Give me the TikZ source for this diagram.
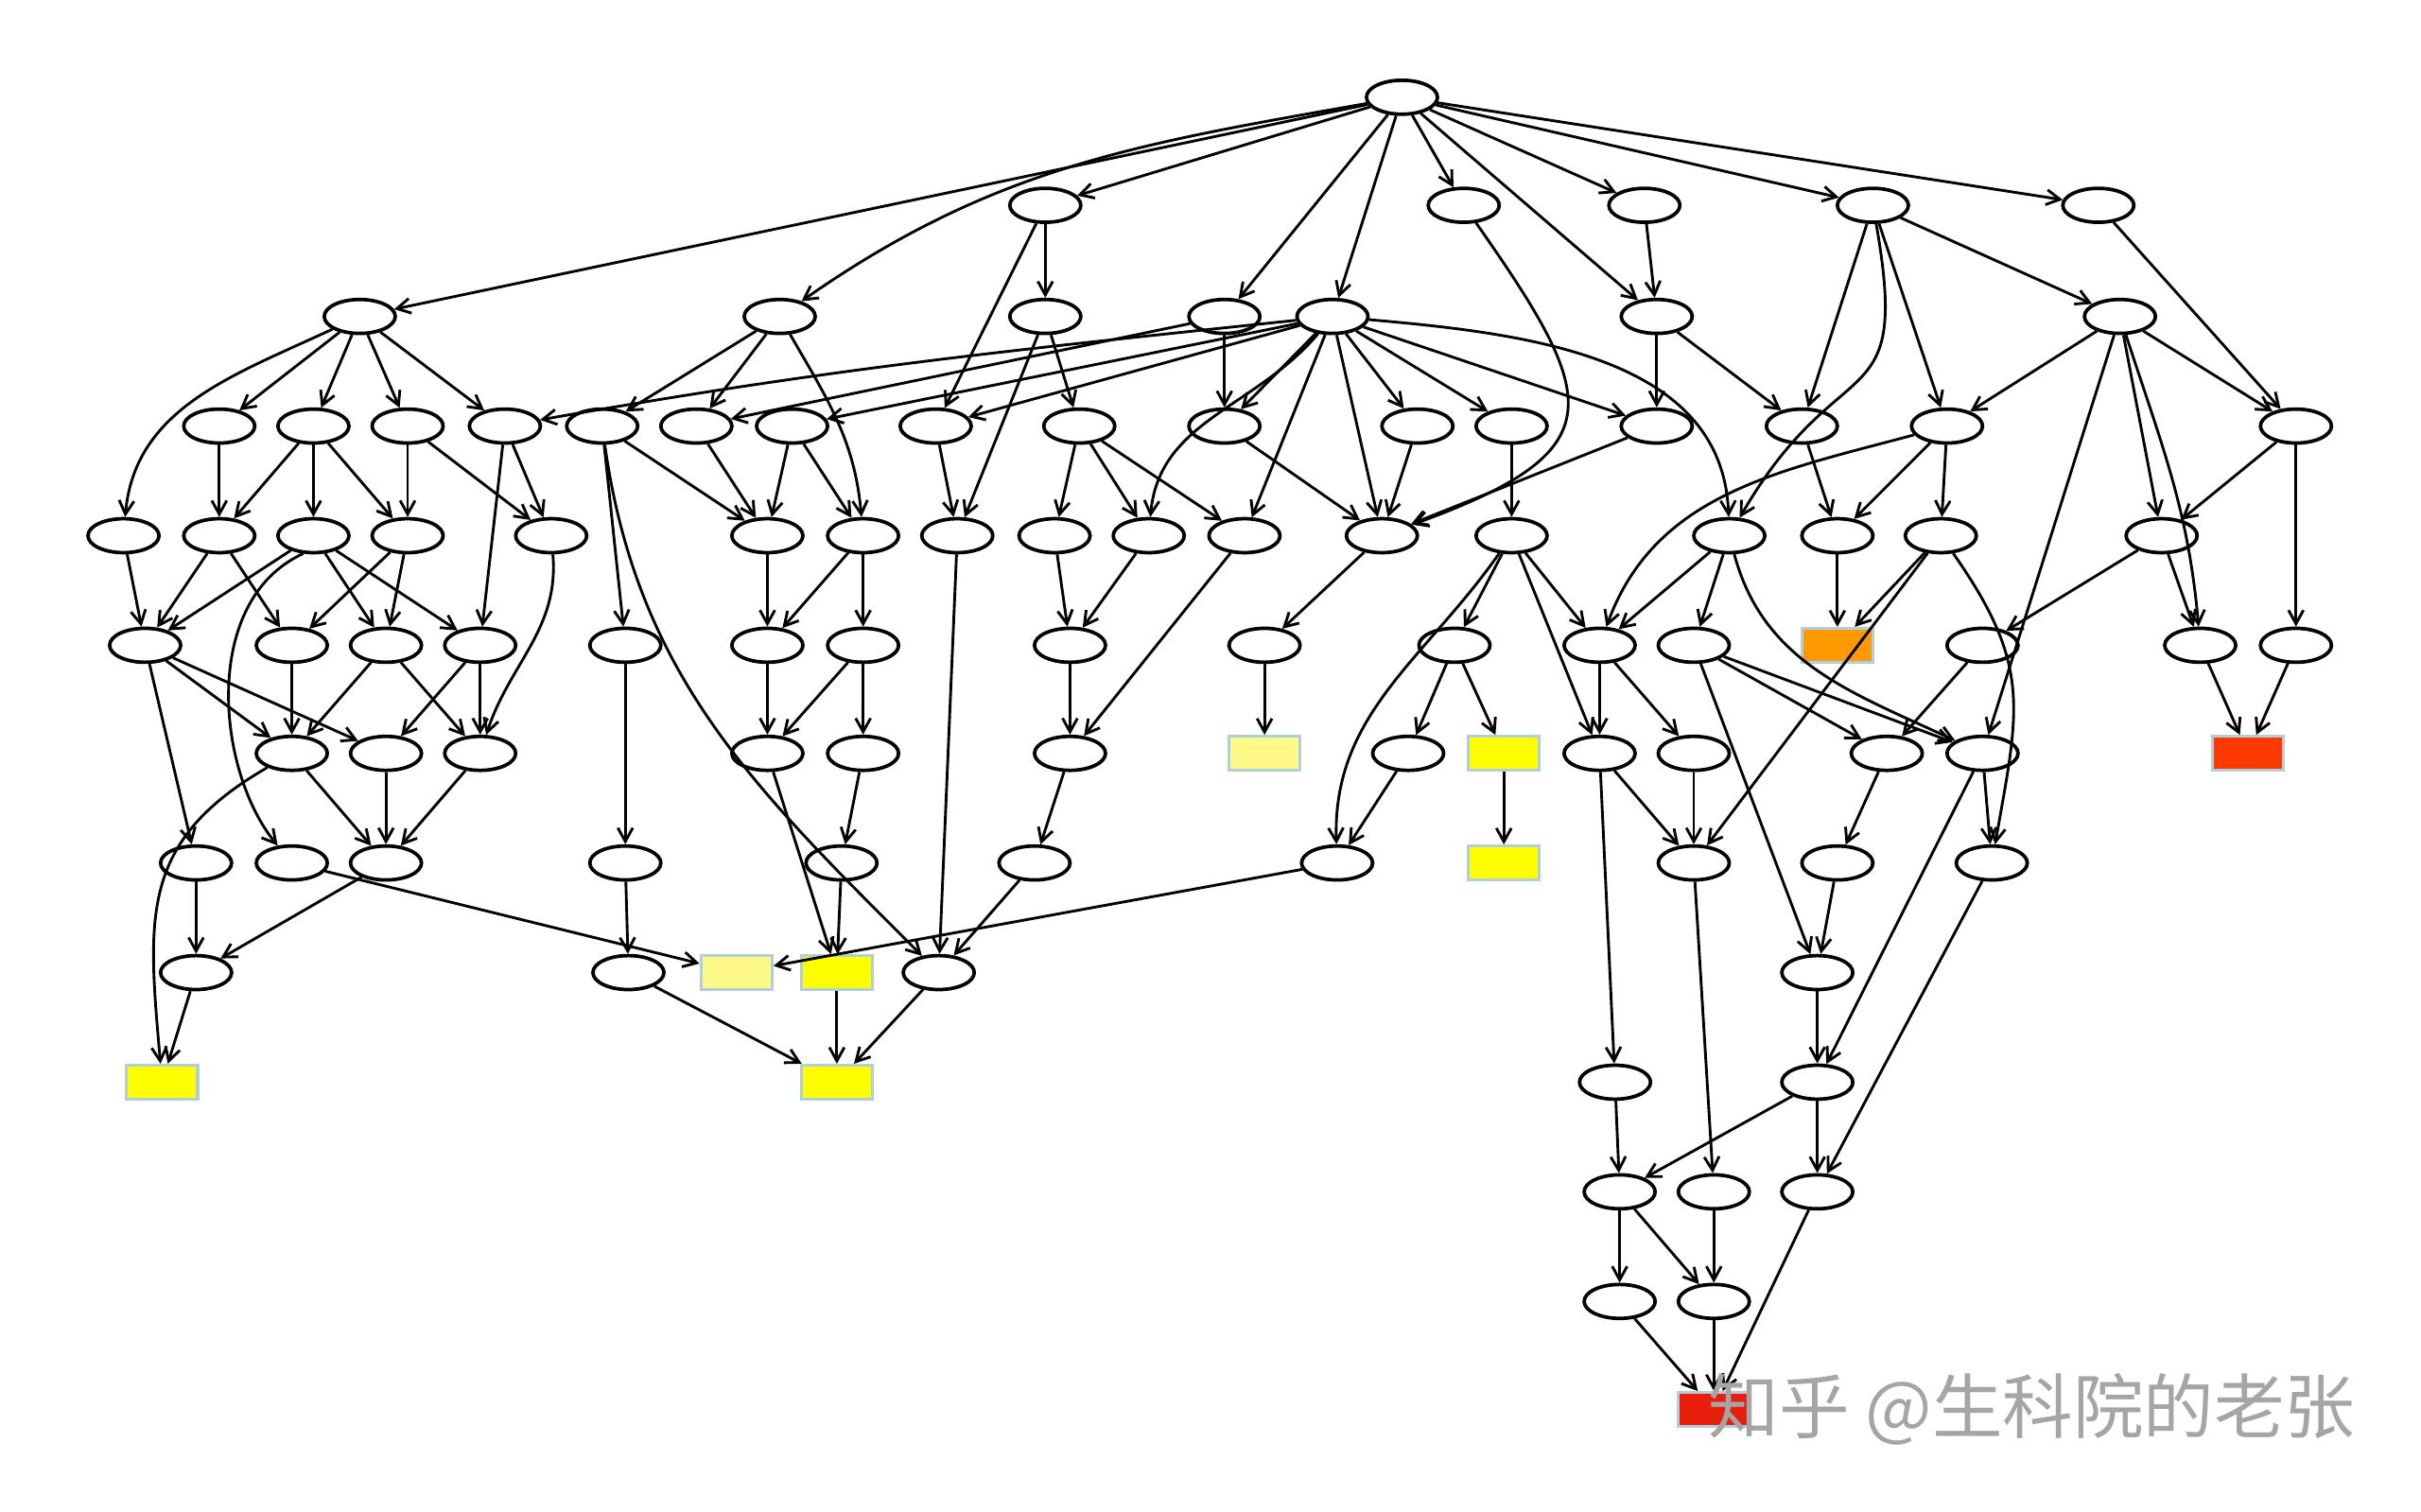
\documentclass[tikz,border=0pt]{standalone}
\usepackage{fontspec}
\newfontfamily\cjkfont{Noto Sans CJK SC}
\usetikzlibrary{shapes.geometric, arrows.meta}
\definecolor{GOYellow}{RGB}{255, 255, 0}
\definecolor{GOPale}{RGB}{255, 250, 135}
\definecolor{GOOrange}{RGB}{255, 153, 0}
\definecolor{GORed}{RGB}{255, 58, 0}
\definecolor{GODeep}{RGB}{232, 30, 10}
\definecolor{GOEdge}{RGB}{176, 206, 220}
\definecolor{MarkGray}{RGB}{165, 165, 165}

\begin{document}
\begin{tikzpicture}[
    x=0.02cm, y=0.02cm,
    term/.style={ellipse, draw=black, fill=white, line width=1.3pt, minimum width=0.92cm, minimum height=0.44cm, inner sep=0pt},
    hit/.style={rectangle, draw=GOEdge, line width=1.1pt, minimum width=0.92cm, minimum height=0.44cm, inner sep=0pt},
    arrow/.style={-{Straight Barb[length=5pt,width=5.5pt,line width=1pt]}, draw=black, line width=1pt}
  ]
    \useasboundingbox (0,0) rectangle (1568,979);

    % Level 0-2
    \node[term] (a) at (908,916) {};
    \node[term] (b1) at (677,846) {};
    \node[term] (b2) at (948,846) {};
    \node[term] (b3) at (1065,846) {};
    \node[term] (b4) at (1213,846) {};
    \node[term] (b5) at (1359,846) {};
    \node[term] (c1) at (233,774) {};
    \node[term] (c2) at (505,774) {};
    \node[term] (c3) at (677,774) {};
    \node[term] (c4) at (793,774) {};
    \node[term] (c5) at (863,774) {};
    \node[term] (c6) at (1073,774) {};
    \node[term] (c7) at (1373,774) {};

    % Level 3
    \node[term] (d1) at (142,703) {};
    \node[term] (d2) at (203,703) {};
    \node[term] (d3) at (264,703) {};
    \node[term] (d4) at (327,703) {};
    \node[term] (d5) at (390,703) {};
    \node[term] (d6) at (451,703) {};
    \node[term] (d7) at (513,703) {};
    \node[term] (d8) at (606,703) {};
    \node[term] (d9) at (699,703) {};
    \node[term] (d10) at (793,703) {};
    \node[term] (d11) at (918,703) {};
    \node[term] (d12) at (979,703) {};
    \node[term] (d13) at (1073,703) {};
    \node[term] (d14) at (1167,703) {};
    \node[term] (d15) at (1261,703) {};
    \node[term] (d16) at (1487,703) {};

    % Level 4
    \node[term] (e1) at (80,632) {};
    \node[term] (e2) at (142,632) {};
    \node[term] (e3) at (203,632) {};
    \node[term] (e4) at (264,632) {};
    \node[term] (e5) at (357,632) {};
    \node[term] (e6) at (497,632) {};
    \node[term] (e7) at (559,632) {};
    \node[term] (e8) at (620,632) {};
    \node[term] (e9) at (683,632) {};
    \node[term] (e10) at (744,632) {};
    \node[term] (e11) at (806,632) {};
    \node[term] (e12) at (895,632) {};
    \node[term] (e13) at (979,632) {};
    \node[term] (e14) at (1120,632) {};
    \node[term] (e15) at (1190,632) {};
    \node[term] (e16) at (1257,632) {};
    \node[term] (e17) at (1400,632) {};

    % Level 5
    \node[term] (f1) at (94,561) {};
    \node[term] (f2) at (189,561) {};
    \node[term] (f3) at (250,561) {};
    \node[term] (f4) at (311,561) {};
    \node[term] (f5) at (405,561) {};
    \node[term] (f6) at (497,561) {};
    \node[term] (f7) at (559,561) {};
    \node[term] (f8) at (693,561) {};
    \node[term] (f9) at (819,561) {};
    \node[term] (f10) at (942,561) {};
    \node[term] (f11) at (1036,561) {};
    \node[term] (f12) at (1097,561) {};
    \node[hit, fill=GOOrange] (f13) at (1190,561) {};
    \node[term] (f14) at (1284,561) {};
    \node[term] (f15) at (1425,561) {};
    \node[term] (f16) at (1487,561) {};

    % Level 6
    \node[term] (g1) at (189,491) {};
    \node[term] (g2) at (250,491) {};
    \node[term] (g3) at (311,491) {};
    \node[term] (g4) at (497,491) {};
    \node[term] (g5) at (559,491) {};
    \node[term] (g6) at (693,491) {};
    \node[hit, fill=GOPale] (g7) at (819,491) {};
    \node[term] (g8) at (912,491) {};
    \node[hit, fill=GOYellow] (g9) at (974,491) {};
    \node[term] (g10) at (1036,491) {};
    \node[term] (g11) at (1097,491) {};
    \node[term] (g12) at (1222,491) {};
    \node[term] (g13) at (1284,491) {};
    \node[hit, fill=GORed] (g14) at (1456,491) {};

    % Level 7-8
    \node[term] (h1) at (127,420) {};
    \node[term] (h2) at (189,420) {};
    \node[term] (h3) at (250,420) {};
    \node[term] (h4) at (405,420) {};
    \node[term] (h5) at (545,420) {};
    \node[term] (h6) at (670,420) {};
    \node[term] (h7) at (866,420) {};
    \node[hit, fill=GOYellow] (h8) at (974,420) {};
    \node[term] (h9) at (1097,420) {};
    \node[term] (h10) at (1190,420) {};
    \node[term] (h11) at (1290,420) {};
    \node[term] (i1) at (127,349) {};
    \node[term] (i2) at (407,349) {};
    \node[hit, fill=GOPale] (i3) at (477,349) {};
    \node[hit, fill=GOYellow] (i4) at (542,349) {};
    \node[term] (i5) at (608,349) {};
    \node[term] (i6) at (1177,349) {};

    % Level 9-12
    \node[hit, fill=GOYellow] (j1) at (105,278) {};
    \node[hit, fill=GOYellow] (j2) at (542,278) {};
    \node[term] (j3) at (1046,278) {};
    \node[term] (j4) at (1177,278) {};
    \node[term] (k1) at (1049,207) {};
    \node[term] (k2) at (1110,207) {};
    \node[term] (k3) at (1177,207) {};
    \node[term] (l1) at (1049,136) {};
    \node[term] (l2) at (1110,136) {};
    \node[hit, fill=GODeep] (m1) at (1110,66) {};

    % Connections from the root
    \draw[arrow] (a) -- (c1);
    \draw[arrow] (a) to[out=190, in=35] (c2);
    \draw[arrow] (a) -- (b1);
    \draw[arrow] (a) -- (c4);
    \draw[arrow] (a) -- (c5);
    \draw[arrow] (a) -- (b2);
    \draw[arrow] (a) -- (c6);
    \draw[arrow] (a) -- (b3);
    \draw[arrow] (a) -- (b4);
    \draw[arrow] (a) -- (b5);

    % Level 1 -> below
    \draw[arrow] (b1) -- (c3);
    \draw[arrow] (b1) -- (d8);
    \draw[arrow] (b2) to[out=-55, in=20, looseness=1.8] (e12);
    \draw[arrow] (b3) -- (c6);
    \draw[arrow] (b4) -- (d14);
    \draw[arrow] (b4) -- (d15);
    \draw[arrow] (b4) -- (c7);
    \draw[arrow] (b4) to[out=-80, in=60, looseness=1.6] (e14);
    \draw[arrow] (b5) -- (d16);

    % Level 2 -> below
    \draw[arrow] (c1) to[out=205, in=85] (e1);
    \draw[arrow] (c1) -- (d1);
    \draw[arrow] (c1) -- (d2);
    \draw[arrow] (c1) -- (d3);
    \draw[arrow] (c1) -- (d4);
    \draw[arrow] (c2) -- (d5);
    \draw[arrow] (c2) -- (d6);
    \draw[arrow] (c2) to[out=-60, in=95] (e7);
    \draw[arrow] (c3) -- (d9);
    \draw[arrow] (c3) -- (e8);
    \draw[arrow] (c4) -- (d6);
    \draw[arrow] (c4) -- (d10);
    \draw[arrow] (c5) to[out=186, in=10] (d4);
    \draw[arrow] (c5) -- (d7);
    \draw[arrow] (c5) -- (d8);
    \draw[arrow] (c5) -- (d10);
    \draw[arrow] (c5) -- (d11);
    \draw[arrow] (c5) -- (d12);
    \draw[arrow] (c5) -- (d13);
    \draw[arrow] (c5) to[out=230, in=85] (e10);
    \draw[arrow] (c5) -- (e11);
    \draw[arrow] (c5) -- (e12);
    \draw[arrow] (c5) to[out=-5, in=92] (e14);
    \draw[arrow] (c6) -- (d13);
    \draw[arrow] (c6) -- (d14);
    \draw[arrow] (c7) -- (d15);
    \draw[arrow] (c7) -- (d16);
    \draw[arrow] (c7) -- (e17);
    \draw[arrow] (c7) to[out=-72, in=95] (f15);
    \draw[arrow] (c7) -- (g13);

    % Level 3 -> below
    \draw[arrow] (d1) -- (e2);
    \draw[arrow] (d2) -- (e2);
    \draw[arrow] (d2) -- (e3);
    \draw[arrow] (d2) -- (e4);
    \draw[arrow] (d3) -- (e4);
    \draw[arrow] (d3) -- (e5);
    \draw[arrow] (d4) -- (e5);
    \draw[arrow] (d4) -- (f4);
    \draw[arrow] (d5) -- (f5);
    \draw[arrow] (d5) -- (e6);
    \draw[arrow] (d5) to[out=-82, in=135] (i5);
    \draw[arrow] (d6) -- (e6);
    \draw[arrow] (d7) -- (e6);
    \draw[arrow] (d7) -- (e7);
    \draw[arrow] (d8) -- (e8);
    \draw[arrow] (d9) -- (e9);
    \draw[arrow] (d9) -- (e10);
    \draw[arrow] (d9) -- (e11);
    \draw[arrow] (d10) -- (e12);
    \draw[arrow] (d11) -- (e12);
    \draw[arrow] (d12) -- (e13);
    \draw[arrow] (d13) -- (e12);
    \draw[arrow] (d14) -- (e15);
    \draw[arrow] (d15) -- (e15);
    \draw[arrow] (d15) -- (e16);
    \draw[arrow] (d15) to[out=195, in=70] (f11);
    \draw[arrow] (d16) -- (e17);
    \draw[arrow] (d16) -- (f16);

    % Level 4 -> below
    \draw[arrow] (e1) -- (f1);
    \draw[arrow] (e2) -- (f1);
    \draw[arrow] (e2) -- (f2);
    \draw[arrow] (e3) -- (f1);
    \draw[arrow] (e3.240) .. controls (130,590) and (140,480) .. (h2);
    \draw[arrow] (e3) -- (f3);
    \draw[arrow] (e3) -- (f4);
    \draw[arrow] (e4) -- (f2);
    \draw[arrow] (e4) -- (f3);
    \draw[arrow] (e5) to[out=-85, in=72] (g3);
    \draw[arrow] (e6) -- (f6);
    \draw[arrow] (e7) -- (f6);
    \draw[arrow] (e7) -- (f7);
    \draw[arrow] (e8) -- (i5);
    \draw[arrow] (e9) -- (f8);
    \draw[arrow] (e10) -- (f8);
    \draw[arrow] (e11) -- (g6);
    \draw[arrow] (e12) -- (f9);
    \draw[arrow] (e13) -- (f10);
    \draw[arrow] (e13) -- (f11);
    \draw[arrow] (e13) -- (g10);
    \draw[arrow] (e13) to[out=235, in=92] (h7);
    \draw[arrow] (e14) -- (f11);
    \draw[arrow] (e14) -- (f12);
    \draw[arrow] (e14) to[out=-75, in=155] (g13);
    \draw[arrow] (e15) -- (f13);
    \draw[arrow] (e16) -- (f13);
    \draw[arrow] (e16) -- (h9);
    \draw[arrow] (e16) to[out=-55, in=80, looseness=1.2] (h11);
    \draw[arrow] (e17) -- (f15);
    \draw[arrow] (e17) -- (f14);

    % Level 5 -> below
    \draw[arrow] (f1) -- (g1);
    \draw[arrow] (f1) -- (g2);
    \draw[arrow] (f1) -- (h1);
    \draw[arrow] (f2) -- (g1);
    \draw[arrow] (f3) -- (g1);
    \draw[arrow] (f3) -- (g3);
    \draw[arrow] (f4) -- (g2);
    \draw[arrow] (f4) -- (g3);
    \draw[arrow] (f5) -- (h4);
    \draw[arrow] (f6) -- (g4);
    \draw[arrow] (f7) -- (g4);
    \draw[arrow] (f7) -- (g5);
    \draw[arrow] (f8) -- (g6);
    \draw[arrow] (f9) -- (g7);
    \draw[arrow] (f10) -- (g8);
    \draw[arrow] (f10) -- (g9);
    \draw[arrow] (f11) -- (g10);
    \draw[arrow] (f11) -- (g11);
    \draw[arrow] (f12) -- (g12);
    \draw[arrow] (f12) -- (g13);
    \draw[arrow] (f12) -- (i6);
    \draw[arrow] (f14) -- (g12);
    \draw[arrow] (f15) -- (g14);
    \draw[arrow] (f16) -- (g14);

    % Level 6 -> below
    \draw[arrow] (g1) to[out=210, in=95, looseness=1.2] (j1);
    \draw[arrow] (g1) -- (h3);
    \draw[arrow] (g2) -- (h3);
    \draw[arrow] (g3) -- (h3);
    \draw[arrow] (g4) -- (i4);
    \draw[arrow] (g5) -- (h5);
    \draw[arrow] (g6) -- (h6);
    \draw[arrow] (g8) -- (h7);
    \draw[arrow] (g9) -- (h8);
    \draw[arrow] (g10) -- (j3);
    \draw[arrow] (g10) -- (h9);
    \draw[arrow] (g11) -- (h9);
    \draw[arrow] (g12) -- (h10);
    \draw[arrow] (g13) -- (h11);
    \draw[arrow] (g13) -- (j4);

    % Level 7 and deeper
    \draw[arrow] (h1) -- (i1);
    \draw[arrow] (h2) -- (i3);
    \draw[arrow] (h3) -- (i1);
    \draw[arrow] (h4) -- (i2);
    \draw[arrow] (h5) -- (i4);
    \draw[arrow] (h6) -- (i5);
    \draw[arrow] (h7) -- (i3);
    \draw[arrow] (h9) -- (k2);
    \draw[arrow] (h10) -- (i6);
    \draw[arrow] (h11) -- (k3);
    \draw[arrow] (i1) -- (j1);
    \draw[arrow] (i2) -- (j2);
    \draw[arrow] (i4) -- (j2);
    \draw[arrow] (i5) -- (j2);
    \draw[arrow] (i6) -- (j4);
    \draw[arrow] (j3) -- (k1);
    \draw[arrow] (j4) -- (k1);
    \draw[arrow] (j4) -- (k3);
    \draw[arrow] (k1) -- (l1);
    \draw[arrow] (k1) -- (l2);
    \draw[arrow] (k2) -- (l2);
    \draw[arrow] (k3) -- (m1);
    \draw[arrow] (l1) -- (m1);
    \draw[arrow] (l2) -- (m1);

    % Watermark
    \node[text=MarkGray, font=\cjkfont\fontsize{26pt}{26pt}\selectfont, inner sep=0pt] (zhihu) at (1316,66) {知乎 @生科院的老张};
  \end{tikzpicture}
\end{document}
